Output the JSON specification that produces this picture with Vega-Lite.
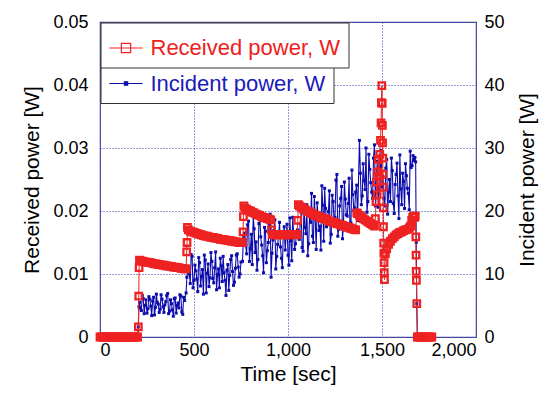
{
  "$schema": "https://vega.github.io/schema/vega-lite/v6.json",
  "width": 376,
  "height": 315,
  "autosize": "none",
  "padding": {"left": 100, "top": 22, "right": 72, "bottom": 59},
  "background": "white",
  "config": {
    "view": {"stroke": "#4e4ea0", "strokeWidth": 1.2},
    "font": "Liberation Sans",
    "axis": {
      "labelFont": "Liberation Sans",
      "titleFont": "Liberation Sans",
      "labelColor": "black",
      "titleColor": "black",
      "titleFontWeight": "normal",
      "ticks": false,
      "domain": false,
      "gridColor": "#3535a5",
      "gridDash": [1, 2],
      "gridWidth": 1,
      "gridOpacity": 1,
      "labelFontSize": 18,
      "titleFontSize": 21
    },
    "legend": {"labelFont": "Liberation Sans", "labelLimit": 0}
  },
  "datasets": {
    "received": [
      {"t": 0, "p": 0}, {"t": 10, "p": 0}, {"t": 20, "p": 0}, {"t": 30, "p": 0}, {"t": 40, "p": 0}, {"t": 50, "p": 0}, {"t": 60, "p": 0}, {"t": 70, "p": 0}, {"t": 80, "p": 0}, {"t": 90, "p": 0}, {"t": 100, "p": 0}, {"t": 110, "p": 0}, {"t": 120, "p": 0}, {"t": 130, "p": 0}, {"t": 140, "p": 0}, {"t": 150, "p": 0}, {"t": 160, "p": 0}, {"t": 170, "p": 0}, {"t": 180, "p": 0}, {"t": 190, "p": 0}, {"t": 200, "p": 0},
      {"t": 204, "p": 0.0016}, {"t": 206, "p": 0.0065}, {"t": 208, "p": 0.011},
      {"t": 210, "p": 0.0122}, {"t": 220, "p": 0.0121}, {"t": 230, "p": 0.012}, {"t": 240, "p": 0.0119}, {"t": 250, "p": 0.0119}, {"t": 260, "p": 0.0118}, {"t": 270, "p": 0.0118}, {"t": 280, "p": 0.0117}, {"t": 290, "p": 0.0116}, {"t": 300, "p": 0.0116}, {"t": 310, "p": 0.0115}, {"t": 320, "p": 0.0115}, {"t": 330, "p": 0.0114}, {"t": 340, "p": 0.0114}, {"t": 350, "p": 0.0113}, {"t": 360, "p": 0.0113}, {"t": 370, "p": 0.0112}, {"t": 380, "p": 0.0112}, {"t": 390, "p": 0.0111}, {"t": 400, "p": 0.0111}, {"t": 410, "p": 0.011}, {"t": 420, "p": 0.011}, {"t": 430, "p": 0.0109}, {"t": 440, "p": 0.0109}, {"t": 450, "p": 0.0108}, {"t": 458, "p": 0.0108},
      {"t": 461, "p": 0.0135}, {"t": 463, "p": 0.015}, {"t": 465, "p": 0.0174},
      {"t": 470, "p": 0.017}, {"t": 480, "p": 0.0168}, {"t": 490, "p": 0.0167}, {"t": 500, "p": 0.0166}, {"t": 510, "p": 0.0165}, {"t": 520, "p": 0.0164}, {"t": 530, "p": 0.0163}, {"t": 540, "p": 0.0162}, {"t": 550, "p": 0.0161}, {"t": 560, "p": 0.016}, {"t": 570, "p": 0.016}, {"t": 580, "p": 0.0159}, {"t": 590, "p": 0.0158}, {"t": 600, "p": 0.0158}, {"t": 610, "p": 0.0157}, {"t": 620, "p": 0.0157}, {"t": 630, "p": 0.0156}, {"t": 640, "p": 0.0155}, {"t": 650, "p": 0.0155}, {"t": 660, "p": 0.0154}, {"t": 670, "p": 0.0154}, {"t": 680, "p": 0.0153}, {"t": 690, "p": 0.0153}, {"t": 700, "p": 0.0152}, {"t": 710, "p": 0.0152}, {"t": 720, "p": 0.0151}, {"t": 730, "p": 0.0151}, {"t": 740, "p": 0.015}, {"t": 750, "p": 0.015}, {"t": 758, "p": 0.015},
      {"t": 761, "p": 0.0167}, {"t": 763, "p": 0.0191}, {"t": 765, "p": 0.0208},
      {"t": 770, "p": 0.0205}, {"t": 780, "p": 0.0203}, {"t": 790, "p": 0.0201}, {"t": 800, "p": 0.02}, {"t": 810, "p": 0.0198}, {"t": 820, "p": 0.0197}, {"t": 830, "p": 0.0195}, {"t": 840, "p": 0.0194}, {"t": 850, "p": 0.0193}, {"t": 860, "p": 0.0191}, {"t": 870, "p": 0.019}, {"t": 880, "p": 0.0189}, {"t": 890, "p": 0.0188}, {"t": 900, "p": 0.0187}, {"t": 908, "p": 0.0186},
      {"t": 912, "p": 0.017}, {"t": 916, "p": 0.0163}, {"t": 920, "p": 0.0163}, {"t": 930, "p": 0.0162}, {"t": 940, "p": 0.0162}, {"t": 950, "p": 0.0163}, {"t": 960, "p": 0.0162}, {"t": 970, "p": 0.0163}, {"t": 980, "p": 0.0162}, {"t": 990, "p": 0.0162}, {"t": 1000, "p": 0.0163}, {"t": 1010, "p": 0.0162}, {"t": 1020, "p": 0.0163}, {"t": 1030, "p": 0.0163}, {"t": 1040, "p": 0.0162}, {"t": 1048, "p": 0.0163},
      {"t": 1052, "p": 0.0185}, {"t": 1055, "p": 0.021},
      {"t": 1060, "p": 0.0208}, {"t": 1070, "p": 0.0206}, {"t": 1080, "p": 0.0204}, {"t": 1090, "p": 0.0202}, {"t": 1100, "p": 0.02}, {"t": 1110, "p": 0.0199}, {"t": 1120, "p": 0.0197}, {"t": 1130, "p": 0.0196}, {"t": 1140, "p": 0.0194}, {"t": 1150, "p": 0.0193}, {"t": 1160, "p": 0.0192}, {"t": 1170, "p": 0.019}, {"t": 1180, "p": 0.0189}, {"t": 1190, "p": 0.0188}, {"t": 1200, "p": 0.0187}, {"t": 1210, "p": 0.0186}, {"t": 1220, "p": 0.0184}, {"t": 1230, "p": 0.0183}, {"t": 1240, "p": 0.0182}, {"t": 1250, "p": 0.0181}, {"t": 1260, "p": 0.018}, {"t": 1270, "p": 0.0179}, {"t": 1280, "p": 0.0178}, {"t": 1290, "p": 0.0177}, {"t": 1300, "p": 0.0176}, {"t": 1310, "p": 0.0175}, {"t": 1320, "p": 0.0174}, {"t": 1330, "p": 0.0173}, {"t": 1340, "p": 0.0172}, {"t": 1350, "p": 0.0171}, {"t": 1360, "p": 0.017},
      {"t": 1366, "p": 0.0197}, {"t": 1370, "p": 0.0196}, {"t": 1380, "p": 0.0193}, {"t": 1390, "p": 0.0191}, {"t": 1400, "p": 0.0188}, {"t": 1410, "p": 0.0186}, {"t": 1420, "p": 0.0184}, {"t": 1430, "p": 0.0182}, {"t": 1440, "p": 0.018}, {"t": 1450, "p": 0.0178}, {"t": 1460, "p": 0.0176},
      {"t": 1465, "p": 0.0188}, {"t": 1468, "p": 0.0215}, {"t": 1471, "p": 0.0246}, {"t": 1474, "p": 0.0226}, {"t": 1477, "p": 0.0262}, {"t": 1480, "p": 0.0282}, {"t": 1484, "p": 0.0255}, {"t": 1488, "p": 0.029}, {"t": 1492, "p": 0.0312}, {"t": 1495, "p": 0.034}, {"t": 1497, "p": 0.0372}, {"t": 1499, "p": 0.0399}, {"t": 1501, "p": 0.0371}, {"t": 1502, "p": 0.0336}, {"t": 1503, "p": 0.0308}, {"t": 1504, "p": 0.0284}, {"t": 1505, "p": 0.0258}, {"t": 1506, "p": 0.0238}, {"t": 1507, "p": 0.0205}, {"t": 1508, "p": 0.0175}, {"t": 1509, "p": 0.0149}, {"t": 1510, "p": 0.0133}, {"t": 1511, "p": 0.0118}, {"t": 1512, "p": 0.0102}, {"t": 1513, "p": 0.0091},
      {"t": 1518, "p": 0.0132}, {"t": 1525, "p": 0.014}, {"t": 1535, "p": 0.0147}, {"t": 1545, "p": 0.0152}, {"t": 1555, "p": 0.0156}, {"t": 1565, "p": 0.0159}, {"t": 1575, "p": 0.0162}, {"t": 1585, "p": 0.0164}, {"t": 1595, "p": 0.0166}, {"t": 1605, "p": 0.0167}, {"t": 1615, "p": 0.0169}, {"t": 1625, "p": 0.017}, {"t": 1635, "p": 0.0171}, {"t": 1645, "p": 0.0173}, {"t": 1652, "p": 0.0176}, {"t": 1658, "p": 0.0185}, {"t": 1663, "p": 0.019}, {"t": 1668, "p": 0.0192}, {"t": 1673, "p": 0.019}, {"t": 1677, "p": 0.0192},
      {"t": 1680, "p": 0.0159}, {"t": 1681, "p": 0.013}, {"t": 1682, "p": 0.0104}, {"t": 1683, "p": 0.009}, {"t": 1685, "p": 0.0053}, {"t": 1688, "p": 0},
      {"t": 1695, "p": 0}, {"t": 1705, "p": 0}, {"t": 1715, "p": 0}, {"t": 1725, "p": 0}, {"t": 1735, "p": 0}, {"t": 1745, "p": 0}, {"t": 1755, "p": 0}, {"t": 1765, "p": 0}
    ],
    "incident": [
      {"t": 0, "p": 0}, {"t": 50, "p": 0}, {"t": 100, "p": 0}, {"t": 150, "p": 0}, {"t": 200, "p": 0}, {"t": 204, "p": 1.6}, {"t": 207, "p": 4.8},
      {"t": 210, "p": 5.5}, {"t": 220, "p": 4.2}, {"t": 230, "p": 6.1}, {"t": 240, "p": 5.0}, {"t": 250, "p": 3.8}, {"t": 260, "p": 6.4}, {"t": 270, "p": 4.9}, {"t": 280, "p": 5.7}, {"t": 290, "p": 3.5}, {"t": 300, "p": 6.8}, {"t": 310, "p": 5.2}, {"t": 320, "p": 4.4}, {"t": 330, "p": 6.0}, {"t": 340, "p": 3.9}, {"t": 350, "p": 5.6}, {"t": 360, "p": 6.9}, {"t": 370, "p": 4.1}, {"t": 380, "p": 5.3}, {"t": 390, "p": 3.3}, {"t": 400, "p": 6.2}, {"t": 410, "p": 5.0}, {"t": 420, "p": 4.6}, {"t": 430, "p": 6.5}, {"t": 440, "p": 3.6}, {"t": 450, "p": 5.8},
      {"t": 215, "p": 4.6}, {"t": 225, "p": 6.6}, {"t": 235, "p": 3.7}, {"t": 245, "p": 5.9}, {"t": 255, "p": 4.5}, {"t": 265, "p": 6.0}, {"t": 275, "p": 3.4}, {"t": 285, "p": 6.3}, {"t": 295, "p": 4.7}, {"t": 305, "p": 5.5}, {"t": 315, "p": 3.9}, {"t": 325, "p": 6.7}, {"t": 335, "p": 4.8}, {"t": 345, "p": 5.1}, {"t": 355, "p": 6.6}, {"t": 365, "p": 3.7}, {"t": 375, "p": 5.9}, {"t": 385, "p": 4.3}, {"t": 395, "p": 6.1}, {"t": 405, "p": 3.8}, {"t": 415, "p": 5.4}, {"t": 425, "p": 6.7}, {"t": 435, "p": 4.0}, {"t": 445, "p": 6.3},
      {"t": 458, "p": 7.0}, {"t": 462, "p": 9.5},
      {"t": 470, "p": 11.2}, {"t": 480, "p": 8.5}, {"t": 490, "p": 12.8}, {"t": 500, "p": 9.0}, {"t": 510, "p": 10.5}, {"t": 520, "p": 7.2}, {"t": 530, "p": 11.8}, {"t": 540, "p": 9.6}, {"t": 550, "p": 6.8}, {"t": 560, "p": 12.2}, {"t": 570, "p": 10.1}, {"t": 580, "p": 8.0}, {"t": 590, "p": 13.4}, {"t": 600, "p": 9.3}, {"t": 610, "p": 11.0}, {"t": 620, "p": 7.5}, {"t": 630, "p": 10.8}, {"t": 640, "p": 12.5}, {"t": 650, "p": 8.8}, {"t": 660, "p": 10.2}, {"t": 670, "p": 6.6}, {"t": 680, "p": 11.5}, {"t": 690, "p": 9.8}, {"t": 700, "p": 12.9}, {"t": 710, "p": 8.2}, {"t": 720, "p": 10.9}, {"t": 730, "p": 13.2}, {"t": 740, "p": 9.5}, {"t": 750, "p": 11.9},
      {"t": 475, "p": 10.0}, {"t": 485, "p": 13.1}, {"t": 495, "p": 7.8}, {"t": 505, "p": 11.4}, {"t": 515, "p": 9.2}, {"t": 525, "p": 12.6}, {"t": 535, "p": 8.1}, {"t": 545, "p": 10.7}, {"t": 555, "p": 13.0}, {"t": 565, "p": 7.0}, {"t": 575, "p": 11.6}, {"t": 585, "p": 9.4}, {"t": 595, "p": 12.0}, {"t": 605, "p": 8.6}, {"t": 615, "p": 13.5}, {"t": 625, "p": 9.9}, {"t": 635, "p": 7.8}, {"t": 645, "p": 11.3}, {"t": 655, "p": 12.8}, {"t": 665, "p": 9.0}, {"t": 675, "p": 10.6}, {"t": 685, "p": 7.4}, {"t": 695, "p": 12.3}, {"t": 705, "p": 10.4}, {"t": 715, "p": 8.7}, {"t": 725, "p": 13.0}, {"t": 735, "p": 11.1}, {"t": 745, "p": 10.0},
      {"t": 758, "p": 12.0}, {"t": 763, "p": 16.0},
      {"t": 770, "p": 16.5}, {"t": 780, "p": 13.2}, {"t": 790, "p": 18.4}, {"t": 800, "p": 14.0}, {"t": 810, "p": 11.5}, {"t": 820, "p": 17.2}, {"t": 830, "p": 15.1}, {"t": 840, "p": 12.3}, {"t": 850, "p": 19.0}, {"t": 860, "p": 14.6}, {"t": 870, "p": 10.2}, {"t": 880, "p": 16.8}, {"t": 890, "p": 13.7}, {"t": 900, "p": 17.9}, {"t": 910, "p": 9.5}, {"t": 920, "p": 15.4}, {"t": 930, "p": 18.6}, {"t": 940, "p": 12.8}, {"t": 950, "p": 16.1}, {"t": 960, "p": 14.3}, {"t": 970, "p": 11.0}, {"t": 980, "p": 17.5}, {"t": 990, "p": 15.8}, {"t": 1000, "p": 13.0}, {"t": 1010, "p": 18.9}, {"t": 1020, "p": 12.1}, {"t": 1030, "p": 16.4}, {"t": 1040, "p": 14.8}, {"t": 1050, "p": 17.0},
      {"t": 775, "p": 14.5}, {"t": 785, "p": 17.8}, {"t": 795, "p": 12.0}, {"t": 805, "p": 16.3}, {"t": 815, "p": 19.2}, {"t": 825, "p": 13.4}, {"t": 835, "p": 10.6}, {"t": 845, "p": 18.0}, {"t": 855, "p": 15.9}, {"t": 865, "p": 12.9}, {"t": 875, "p": 17.4}, {"t": 885, "p": 11.8}, {"t": 895, "p": 15.0}, {"t": 905, "p": 19.5}, {"t": 915, "p": 13.3}, {"t": 925, "p": 16.9}, {"t": 935, "p": 10.8}, {"t": 945, "p": 14.7}, {"t": 955, "p": 18.2}, {"t": 965, "p": 12.5}, {"t": 975, "p": 16.6}, {"t": 985, "p": 13.8}, {"t": 995, "p": 17.9}, {"t": 1005, "p": 11.4}, {"t": 1015, "p": 15.3}, {"t": 1025, "p": 19.0}, {"t": 1035, "p": 13.9}, {"t": 1045, "p": 16.2},
      {"t": 1060, "p": 15.5}, {"t": 1070, "p": 19.8}, {"t": 1080, "p": 13.6}, {"t": 1090, "p": 17.4}, {"t": 1100, "p": 21.0}, {"t": 1110, "p": 14.8}, {"t": 1120, "p": 18.2}, {"t": 1130, "p": 16.0}, {"t": 1140, "p": 22.3}, {"t": 1150, "p": 13.9}, {"t": 1160, "p": 19.1}, {"t": 1170, "p": 17.6}, {"t": 1180, "p": 24.0}, {"t": 1190, "p": 15.2}, {"t": 1200, "p": 20.4}, {"t": 1210, "p": 18.0}, {"t": 1220, "p": 23.2}, {"t": 1230, "p": 16.3}, {"t": 1240, "p": 21.5}, {"t": 1250, "p": 19.0}, {"t": 1260, "p": 25.8}, {"t": 1270, "p": 17.1}, {"t": 1280, "p": 22.0}, {"t": 1290, "p": 15.6}, {"t": 1300, "p": 24.6}, {"t": 1310, "p": 19.4}, {"t": 1320, "p": 21.2}, {"t": 1330, "p": 16.8}, {"t": 1340, "p": 26.5}, {"t": 1350, "p": 20.1}, {"t": 1360, "p": 23.0}, {"t": 1370, "p": 18.5},
      {"t": 1065, "p": 18.0}, {"t": 1075, "p": 14.2}, {"t": 1085, "p": 20.7}, {"t": 1095, "p": 16.4}, {"t": 1105, "p": 12.9}, {"t": 1115, "p": 19.5}, {"t": 1125, "p": 22.8}, {"t": 1135, "p": 15.0}, {"t": 1145, "p": 18.7}, {"t": 1155, "p": 21.3}, {"t": 1165, "p": 16.9}, {"t": 1175, "p": 13.8}, {"t": 1185, "p": 20.9}, {"t": 1195, "p": 23.6}, {"t": 1205, "p": 17.5}, {"t": 1215, "p": 19.9}, {"t": 1225, "p": 14.9}, {"t": 1235, "p": 22.5}, {"t": 1245, "p": 18.3}, {"t": 1255, "p": 24.9}, {"t": 1265, "p": 16.0}, {"t": 1275, "p": 20.8}, {"t": 1285, "p": 23.9}, {"t": 1295, "p": 17.8}, {"t": 1305, "p": 21.9}, {"t": 1315, "p": 19.2}, {"t": 1325, "p": 25.2}, {"t": 1335, "p": 18.1}, {"t": 1345, "p": 22.6}, {"t": 1355, "p": 20.5}, {"t": 1365, "p": 24.1},
      {"t": 1380, "p": 31.2}, {"t": 1390, "p": 21.0}, {"t": 1400, "p": 27.5}, {"t": 1410, "p": 23.4}, {"t": 1420, "p": 19.8}, {"t": 1430, "p": 29.0}, {"t": 1440, "p": 24.5}, {"t": 1450, "p": 22.0}, {"t": 1460, "p": 30.5}, {"t": 1470, "p": 25.2}, {"t": 1480, "p": 20.6}, {"t": 1490, "p": 27.0}, {"t": 1500, "p": 23.8},
      {"t": 1385, "p": 26.0}, {"t": 1395, "p": 22.4}, {"t": 1405, "p": 24.8}, {"t": 1415, "p": 30.0}, {"t": 1425, "p": 21.5}, {"t": 1435, "p": 26.6}, {"t": 1445, "p": 23.0}, {"t": 1455, "p": 28.4}, {"t": 1465, "p": 20.8}, {"t": 1475, "p": 27.9}, {"t": 1485, "p": 24.0}, {"t": 1495, "p": 29.6},
      {"t": 1510, "p": 22.0}, {"t": 1520, "p": 26.8}, {"t": 1530, "p": 19.5}, {"t": 1540, "p": 25.0}, {"t": 1550, "p": 28.4}, {"t": 1560, "p": 21.2}, {"t": 1570, "p": 24.2}, {"t": 1580, "p": 27.6}, {"t": 1590, "p": 18.8}, {"t": 1600, "p": 23.5}, {"t": 1610, "p": 26.0}, {"t": 1620, "p": 20.4}, {"t": 1630, "p": 25.6}, {"t": 1640, "p": 22.8}, {"t": 1650, "p": 29.5}, {"t": 1660, "p": 27.2}, {"t": 1670, "p": 28.0},
      {"t": 1505, "p": 25.5}, {"t": 1515, "p": 20.8}, {"t": 1525, "p": 28.2}, {"t": 1535, "p": 23.0}, {"t": 1545, "p": 21.5}, {"t": 1555, "p": 26.4}, {"t": 1565, "p": 19.6}, {"t": 1575, "p": 25.8}, {"t": 1585, "p": 22.4}, {"t": 1595, "p": 28.9}, {"t": 1605, "p": 21.0}, {"t": 1615, "p": 24.7}, {"t": 1625, "p": 27.5}, {"t": 1635, "p": 23.6}, {"t": 1645, "p": 20.2}, {"t": 1655, "p": 26.9}, {"t": 1665, "p": 28.8},
      {"t": 1675, "p": 28.5}, {"t": 1679, "p": 27.8}, {"t": 1682, "p": 15.0}, {"t": 1685, "p": 5.3}, {"t": 1688, "p": 0}
    ]
  },
  "encoding": {
    "x": {
      "field": "t",
      "type": "quantitative",
      "scale": {"domain": [0, 2000], "nice": false},
      "axis": {"title": "Time [sec]", "values": [0, 500, 1000, 1500, 2000], "format": ",.0f", "labelPadding": 4, "titlePadding": 4, "grid": true}
    }
  },
  "layer": [
    {
      "data": {"name": "incident"},
      "mark": {"type": "line", "strokeWidth": 1.1, "point": {"shape": "square", "size": 9, "filled": true}},
      "encoding": {
        "y": {
          "field": "p",
          "type": "quantitative",
          "scale": {"domain": [0, 50], "nice": false},
          "axis": {"orient": "right", "title": "Incident power [W]", "titleAngle": 270, "titleBaseline": "top", "values": [0, 10, 20, 30, 40, 50], "grid": false, "labelPadding": 8, "titlePadding": 12}
        },
        "color": {
          "datum": "Incident power, W",
          "scale": {"range": ["#0c0cac"]},
          "legend": {
            "title": null,
            "orient": "none",
            "legendX": 0.5,
            "legendY": 36,
            "strokeColor": "#333333",
            "fillColor": "white",
            "padding": 8,
            "labelFontSize": 22,
            "labelLimit": 0,
            "labelColor": "#1a1ab8",
            "labelOffset": 7,
            "symbolType": "M-1,0H1M-0.1,-0.1H0.1V0.1H-0.1Z",
            "symbolSize": 1100,
            "symbolStrokeWidth": 1.2,
            "symbolStrokeColor": "#0c0cac",
            "symbolFillColor": "#0c0cac"
          }
        }
      }
    },
    {
      "data": {"name": "received"},
      "mark": {"type": "line", "strokeWidth": 1, "point": {"shape": "square", "size": 42, "filled": false, "strokeWidth": 2.3}},
      "encoding": {
        "y": {
          "field": "p",
          "type": "quantitative",
          "scale": {"domain": [0, 0.05], "nice": false},
          "axis": {"orient": "left", "title": "Received power [W]", "values": [0, 0.01, 0.02, 0.03, 0.04, 0.05], "format": "~g", "grid": true, "labelPadding": 12, "titlePadding": 10}
        },
        "color": {
          "datum": "Received power, W",
          "scale": {"range": ["#ee2222"]},
          "legend": {
            "title": null,
            "orient": "none",
            "legendX": 0.5,
            "legendY": 0.5,
            "strokeColor": "#333333",
            "fillColor": "white",
            "padding": 8,
            "labelFontSize": 22,
            "labelLimit": 0,
            "labelColor": "#ee2020",
            "labelOffset": 7,
            "symbolType": "M-1,0H1M-0.28,-0.28H0.28V0.28H-0.28Z",
            "symbolSize": 1100,
            "symbolStrokeWidth": 1.2,
            "symbolStrokeColor": "#ee2222",
            "symbolFillColor": "white"
          }
        }
      }
    }
  ],
  "resolve": {"scale": {"y": "independent", "color": "independent"}, "legend": {"color": "independent"}}
}
